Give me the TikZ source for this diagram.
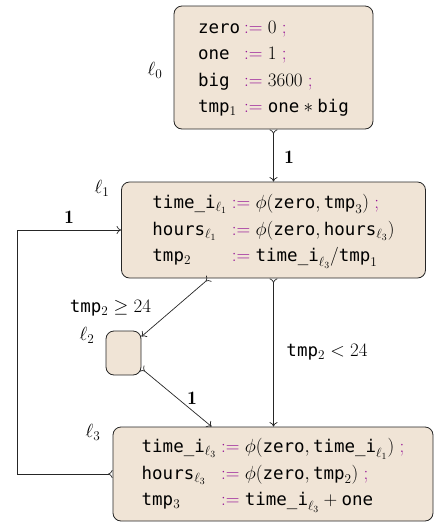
\RequirePackage{fix-cm}
\documentclass[tikz,border=0pt]{standalone}
\usepackage{fontspec}
\setmonofont[Scale=0.92]{DejaVu Sans Mono}
\usetikzlibrary{arrows.meta,calc}
\definecolor{pur}{RGB}{150,20,150}
\definecolor{boxfill}{RGB}{240,228,214}
\newcommand{\tv}[1]{\texttt{#1}}
\newcommand{\asg}{\mathrel{\textcolor{pur}{:=}}}
\newcommand{\semi}{\mathrel{\textcolor{pur}{;}}}
\tikzset{
  blk/.style={draw=black!85, line width=0.8pt, fill=boxfill, rounded corners=8pt, inner sep=0pt,
    font=\fontsize{19}{26.5}\selectfont},
  lbl/.style={inner sep=0pt, font=\fontsize{19}{23}\selectfont},
  arr/.style={line width=0.7pt, draw=black!85, >->},
}
\begin{document}
\begin{tikzpicture}[x=1pt,y=-1pt, >={Computer Modern Rightarrow[length=4.5pt,width=8pt]}]
\useasboundingbox (0,0) rectangle (435,523);
\node[blk, minimum width=199pt, minimum height=123pt] (L0) at (273.5,67.5)
 {\begin{tabular}{@{}l@{\hspace{4pt}}l@{}}
  \tv{zero} & $\asg 0 \semi$\\
  \tv{one}  & $\asg 1 \semi$\\
  \tv{big}  & $\asg 3600 \semi$\\
  \tv{tmp}$_1$ & $\asg \mbox{\tv{one}} * \mbox{\tv{big}}$
 \end{tabular}};
\node[blk, minimum width=304pt, minimum height=96pt] (L1) at (273.5,230)
 {\begin{tabular}{@{}l@{\hspace{5pt}}l@{}}
  \tv{time\_i}$_{\ell_1}$ & $\asg \phi(\mbox{\tv{zero}}, \mbox{\tv{tmp}}_3) \semi$\\
  \tv{hours}$_{\ell_1}$ & $\asg \phi(\mbox{\tv{zero}}, \mbox{\tv{hours}}_{\ell_3})$\\
  \tv{tmp}$_2$ & $\asg \mbox{\tv{time\_i}}_{\ell_3}/\mbox{\tv{tmp}}_1$
 \end{tabular}};
\node[blk, minimum width=35pt, minimum height=44pt] (L2) at (123.5,353) {};
\node[blk, minimum width=320pt, minimum height=94pt] (L3) at (273,474)
 {\begin{tabular}{@{}l@{\hspace{5pt}}l@{}}
  \tv{time\_i}$_{\ell_3}$ & $\asg \phi(\mbox{\tv{zero}}, \mbox{\tv{time\_i}}_{\ell_1}) \semi$\\
  \tv{hours}$_{\ell_3}$ & $\asg \phi(\mbox{\tv{zero}}, \mbox{\tv{tmp}}_2) \semi$\\
  \tv{tmp}$_3$ & $\asg \mbox{\tv{time\_i}}_{\ell_3} + \mbox{\tv{one}}$
 \end{tabular}};
% location labels
\node[lbl] (n0) at (155,70) {$\ell_0$};
\node[lbl] (n1) at (102,188) {$\ell_1$};
\node[lbl] (n2) at (87,335) {$\ell_2$};
\node[lbl] (n3) at (93,432) {$\ell_3$};
% edges
\draw[arr] (L0.south) -- (L0.south |- L1.north);
\node[lbl] (w01) at (289,157) {$\mathbf{1}$};
\draw[arr] ([xshift=88pt]L1.south west) -- ([yshift=-6pt]L2.north east);
\node[lbl] (c12) at (110.5,308) {\tv{tmp}$_2 \geq 24$};
\draw[arr] ([yshift=7pt]L2.south east) -- ([xshift=99pt]L3.north west);
\node[lbl] (w23) at (192,398) {$\mathbf{1}$};
\draw[arr] (L1.south) -- (L1.south |- L3.north);
\node[lbl] (c13) at (327,352) {\tv{tmp}$_2 < 24$};
\coordinate (cor) at (17,474);
\draw[arr] (L3.west) -- (cor) |- (L1.west);
\node[lbl] (w31) at (69,217) {$\mathbf{1}$};
\end{tikzpicture}
\end{document}
